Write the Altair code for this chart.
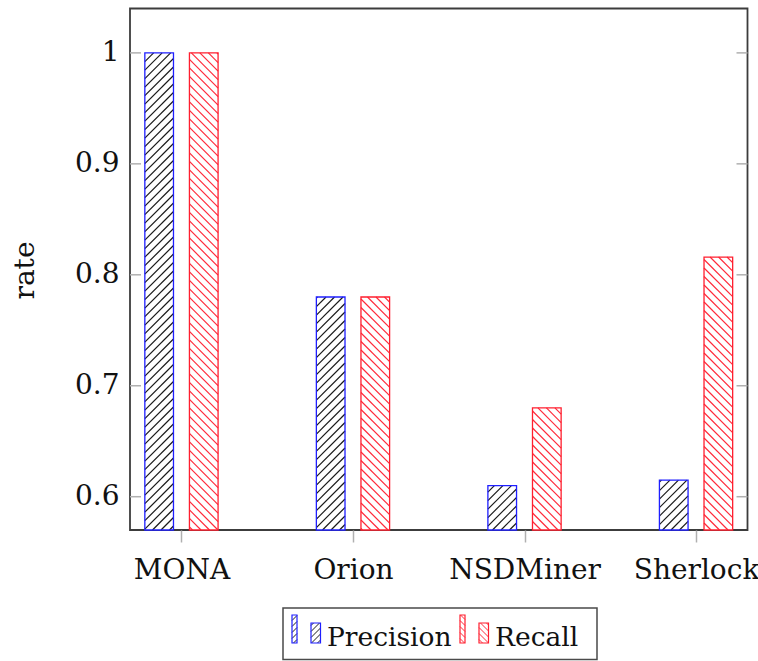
import json
import numpy as np
import pandas as pd
import altair as alt

# ---- values -------------------------------------------------------------
methods = ["MONA", "Orion", "NSDMiner", "Sherlock"]
precision = [1.0, 0.78, 0.61, 0.615]
recall = [1.0, 0.78, 0.68, 0.816]
series = ["Precision", "Recall"]
y_ticks = [0.6, 0.7, 0.8, 0.9, 1.0]

# ---- layout / style -----------------------------------------------------
W, H = 617.5, 521.5            # plot area in px
X_DOM = [-0.3, 3.3]            # category index axis with margins
Y_DOM = [0.57, 1.04]
BAR_W = 0.167                  # bar width in category units
BAR_SHIFT = 0.13               # offset of each bar from its category
HATCH_GAP = 8.5                # px between hatch lines (along x)
FONT = "DejaVu Serif"
FS = 28
LEG_FS = 26.5

OUTLINE = {"Precision": "#1f1fff", "Recall": "#ff1f2f"}
HATCH_COLOR = {"Precision": "#1a1a1a", "Recall": "#ff2a3a"}
HATCH_DIR = {"Precision": "ne", "Recall": "nw"}
SHIFT = {"Precision": -BAR_SHIFT, "Recall": BAR_SHIFT}

px_x = W / (X_DOM[1] - X_DOM[0])
px_y = H / (Y_DOM[1] - Y_DOM[0])


def hatch(x0, x1, y0, y1, direction, gap):
    """Diagonal line segments clipped to a screen-space rectangle (y down)."""
    segs = []
    if direction == "ne":      # lines X + Y = c
        for k in range(int(np.floor((x0 + y0) / gap)), int(np.ceil((x1 + y1) / gap)) + 1):
            c = k * gap
            xa, xb = max(x0, c - y1), min(x1, c - y0)
            if xb - xa > 0.3:
                segs.append((xa, c - xa, xb, c - xb))
    else:                      # lines Y - X = c
        for k in range(int(np.floor((y0 - x1) / gap)), int(np.ceil((y1 - x0) / gap)) + 1):
            c = k * gap
            xa, xb = max(x0, y0 - c), min(x1, y1 - c)
            if xb - xa > 0.3:
                segs.append((xa, xa + c, xb, xb + c))
    return segs


# ---- bars and their hatching ------------------------------------------
bar_rows, hatch_rows = [], []
for s, vals in zip(series, [precision, recall]):
    for i, (m, v) in enumerate(zip(methods, vals)):
        x0 = i + SHIFT[s] - BAR_W / 2
        x1 = i + SHIFT[s] + BAR_W / 2
        bar_rows.append({"series": s, "method": m, "x0": x0, "x1": x1,
                         "value": v, "base": Y_DOM[0]})
        X0, X1 = (x0 - X_DOM[0]) * px_x, (x1 - X_DOM[0]) * px_x
        Yt, Yb = (Y_DOM[1] - v) * px_y, H
        for (ax, ay, bx, by) in hatch(X0, X1, Yt, Yb, HATCH_DIR[s], HATCH_GAP):
            hatch_rows.append({
                "series": s,
                "hx": X_DOM[0] + ax / px_x, "hy": Y_DOM[1] - ay / px_y,
                "hx2": X_DOM[0] + bx / px_x, "hy2": Y_DOM[1] - by / px_y,
            })
bars = pd.DataFrame(bar_rows)
hatches = pd.DataFrame(hatch_rows)
ticks = pd.DataFrame({"t": y_ticks})

xscale = alt.Scale(domain=X_DOM, nice=False, zero=False)
yscale = alt.Scale(domain=Y_DOM, nice=False, zero=False)

label_expr = json.dumps(methods) + "[datum.value]"
x_axis = alt.Axis(values=list(range(len(methods))), labelExpr=label_expr,
                  title=None, domain=False, grid=False, ticks=True,
                  tickColor="#b0b0b0", tickWidth=1.5, tickSize=12,
                  labelFont=FONT, labelFontSize=FS, labelColor="#111",
                  labelBaseline="alphabetic", labelPadding=36, labelFlush=False)
y_axis = alt.Axis(values=y_ticks, format=".1~f", title="rate", domain=False,
                  grid=False, ticks=False, labelFont=FONT, labelFontSize=FS,
                  labelColor="#111", labelPadding=11, labelBaseline="middle",
                  titleFont=FONT, titleFontSize=FS, titleFontWeight="normal",
                  titleColor="#111", titleBaseline="alphabetic", titleAlign="center",
                  titleX=-97, titleY=261.5)

base = alt.Chart(bars)
fills = base.mark_rect(fill="white", strokeOpacity=0).encode(
    x=alt.X("x0:Q", scale=xscale, axis=x_axis),
    x2="x1:Q",
    y=alt.Y("value:Q", scale=yscale, axis=y_axis),
    y2="base:Q",
)

layers = [fills]
for s in series:
    layers.append(
        alt.Chart(hatches).transform_filter(alt.datum.series == s)
        .mark_rule(color=HATCH_COLOR[s], strokeWidth=1.2)
        .encode(x=alt.X("hx:Q", scale=xscale), y=alt.Y("hy:Q", scale=yscale),
                x2="hx2:Q", y2="hy2:Q")
    )
for s in series:
    layers.append(
        base.transform_filter(alt.datum.series == s)
        .mark_rect(fillOpacity=0, stroke=OUTLINE[s], strokeWidth=1.3)
        .encode(x=alt.X("x0:Q", scale=xscale), x2="x1:Q",
                y=alt.Y("value:Q", scale=yscale), y2="base:Q")
    )

# inner y ticks on both sides of the frame
tick_len = 11
for xa, xb in [(0, tick_len), (W - tick_len, W)]:
    layers.append(
        alt.Chart(ticks).mark_rule(color="#b0b0b0", strokeWidth=1.5).encode(
            y=alt.Y("t:Q", scale=yscale), x=alt.value(xa), x2=alt.value(xb))
    )

# ---- legend below the plot (pixel coordinates relative to the plot) -----
LEG_BOX = (153, 467, 599.5, 651)
LEG_ENTRY_X = [162, 330]
LEG_BARS = [(0, 5, 606.5), (19, 28.5, 614.5)]   # x-from, x-to, top
LEG_BOTTOM = 634.5
LEG_TEXT_DX, LEG_TEXT_Y = 35, 637

box = pd.DataFrame([{"bx0": LEG_BOX[0], "bx1": LEG_BOX[1],
                     "by0": LEG_BOX[2], "by1": LEG_BOX[3]}])
layers.append(
    alt.Chart(box).mark_rect(fill="white", stroke="#4a4a4a", strokeWidth=1.5).encode(
        x=alt.X("bx0:Q", scale=None, axis=None), x2="bx1:Q",
        y=alt.Y("by0:Q", scale=None, axis=None), y2="by1:Q")
)

leg_rects, leg_hatch, leg_text = [], [], []
for s, ex in zip(series, LEG_ENTRY_X):
    for (a, b, top) in LEG_BARS:
        leg_rects.append({"series": s, "lx0": ex + a, "lx1": ex + b,
                          "ly0": top, "ly1": LEG_BOTTOM})
        for (ax, ay, bx, by) in hatch(ex + a, ex + b, top, LEG_BOTTOM,
                                      HATCH_DIR[s], 6.0):
            leg_hatch.append({"series": s, "ax": ax, "ay": ay, "bx": bx, "by": by})
    leg_text.append({"label": s, "tx": ex + LEG_TEXT_DX, "ty": LEG_TEXT_Y})
leg_rects = pd.DataFrame(leg_rects)
leg_hatch = pd.DataFrame(leg_hatch)
leg_text = pd.DataFrame(leg_text)

for s in series:
    layers.append(
        alt.Chart(leg_hatch).transform_filter(alt.datum.series == s)
        .mark_rule(color=HATCH_COLOR[s], strokeWidth=1.0)
        .encode(x=alt.X("ax:Q", scale=None, axis=None), y=alt.Y("ay:Q", scale=None, axis=None),
                x2="bx:Q", y2="by:Q")
    )
    layers.append(
        alt.Chart(leg_rects).transform_filter(alt.datum.series == s)
        .mark_rect(fillOpacity=0, stroke=OUTLINE[s], strokeWidth=1.2)
        .encode(x=alt.X("lx0:Q", scale=None, axis=None), x2="lx1:Q",
                y=alt.Y("ly0:Q", scale=None, axis=None), y2="ly1:Q")
    )
layers.append(
    alt.Chart(leg_text).mark_text(align="left", baseline="alphabetic", font=FONT,
                                  fontSize=LEG_FS, color="#111").encode(
        x=alt.X("tx:Q", scale=None, axis=None), y=alt.Y("ty:Q", scale=None, axis=None),
        text="label:N")
)

chart = (
    alt.layer(*layers)
    .properties(width=W, height=H, background="white",
                autosize=alt.AutoSizeParams(type="none"),
                padding={"left": 130, "top": 8.5, "right": 10.5, "bottom": 131})
    .configure_view(stroke="#3c3c3c", strokeWidth=1.8)
)

chart.save("out.html", embed_options={"renderer": "svg", "actions": False})
